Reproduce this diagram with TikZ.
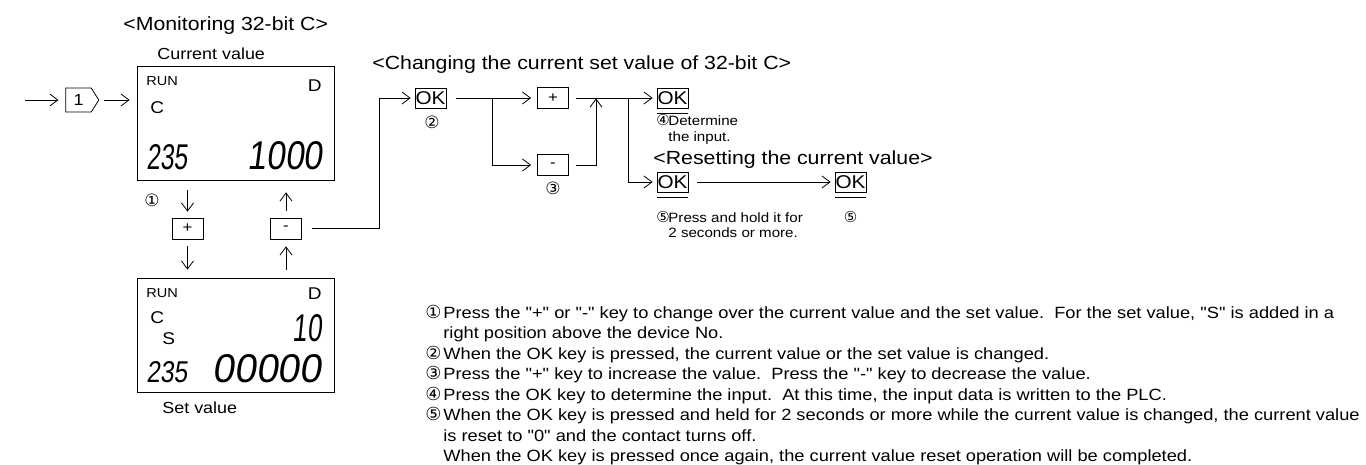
\documentclass[tikz,border=0pt]{standalone}
\usepackage{fontspec}
\usepackage{graphicx}
\newfontfamily\mainf{Liberation Sans}[FakeStretch=1.12]
\newfontfamily\cnum{DejaVu Sans}
\newfontfamily\lcdfont{Liberation Sans}[FakeSlant=0.15]
\usetikzlibrary{arrows.meta,shapes.symbols,calc}
\tikzset{
  fs/.style={font=\mainf\fontsize{#1}{#1}\selectfont},
  cs/.style={font=\cnum\fontsize{#1}{#1}\selectfont, inner sep=0pt},
  txt/.style={inner sep=0pt, anchor=base west},
  arr/.style={-{Straight Barb[length=8pt,width=12pt]}},
  panel/.style={draw, minimum width=197pt, minimum height=114pt, inner sep=0pt},
  keybox/.style={draw, minimum width=31pt, minimum height=21pt, inner sep=0pt, fs=15},
  okbox/.style={draw, minimum width=31pt, minimum height=20pt, inner sep=0pt, fs=18.5},
  lcd/.style={inner sep=0pt}
}
\begin{document}
\begin{tikzpicture}[x=1pt,y=-1pt,line width=0.8pt]
\useasboundingbox (0,0) rectangle (1366,464);

% ---------- headings ----------
\node[txt,fs=19] (h1) at (123,30) {<Monitoring 32-bit C>};
\node[txt,fs=16] (cv) at (157,59) {Current value};
\node[txt,fs=19] (h2) at (372,69) {<Changing the current set value of 32-bit C>};
\node[txt,fs=19] (h3) at (653,164) {<Resetting the current value>};

% ---------- top panel ----------
\node[panel] (p1) at (235.5,123) {};
\node[txt,fs=13] (run1) at (146,85) {RUN};
\node[inner sep=0pt,anchor=base east,fs=17] (d1) at (322,91) {D};
\node[txt,fs=17] (c1) at (150,113) {C};
\node[lcd,anchor=south west] (n235a) at (146,170) {\resizebox{41pt}{25pt}{\lcdfont 235}};
\node[lcd,anchor=south east] (n1000) at (323,170) {\resizebox{75pt}{28pt}{\lcdfont 1000}};

% ---------- bottom panel ----------
\node[panel] (p2) at (235.5,335) {};
\node[txt,fs=13] (run2) at (146,297) {RUN};
\node[inner sep=0pt,anchor=base east,fs=17] (d2) at (322,299) {D};
\node[txt,fs=17] (c2) at (150,323) {C};
\node[txt,fs=17] (s2) at (162,344) {S};
\node[lcd,anchor=south east] (n10) at (322,342) {\resizebox{29pt}{27pt}{\lcdfont 10}};
\node[lcd,anchor=south west] (n235b) at (146,383) {\resizebox{41pt}{21pt}{\lcdfont 235}};
\node[lcd,anchor=south east] (n00000) at (322,383) {\resizebox{109pt}{28pt}{\lcdfont 00000}};
\node[txt,fs=16] (sv) at (162,413) {Set value};

% ---------- entry ----------
\coordinate (in) at (25,100);
\node[draw, signal, signal to=east, signal pointer angle=115, minimum width=33pt, minimum height=24pt, inner sep=0pt, fs=16] (one) at (78.5,100) {1};
\draw[arr, shorten >=7pt] (in) -- (one.west);
\draw[arr, shorten <=5pt, shorten >=7pt] (one.east) -- (p1.west |- one.east);

% ---------- panel switching ----------
\node[cs=17] (k1) at (152,200) {①};
\node[keybox] (plus1) at (187.5,228.5) {+};
\node[keybox] (minus1) at (286,228.5) {-};
\draw[arr, shorten <=10pt, shorten >=6pt] (plus1 |- p1.south) -- (plus1.north);
\draw[arr, shorten <=7pt, shorten >=8pt] (plus1.south) -- (plus1 |- p2.north);
\draw[arr, shorten <=8pt, shorten >=7pt] (minus1 |- p2.north) -- (minus1.south);
\draw[arr, shorten <=7pt, shorten >=12pt] (minus1.north) -- (minus1 |- p1.south);

% ---------- changing set value ----------
\node[okbox] (ok1) at (430.5,98) {OK};
\node[cs=17] (k2) at (432,122) {②};
\coordinate (j0) at (379,98);
\draw[arr, shorten <=10pt, shorten >=4pt] (minus1.east) -| (j0) -- (ok1.west);

\node[keybox] (plus2) at (553,98) {+};
\node[keybox] (minus2) at (553,165) {-};
\node[cs=17] (k3) at (553,188) {③};
\coordinate (b1) at (492,98);
\draw[arr, shorten <=10pt, shorten >=6pt] (ok1.east) -- (plus2.west);
\draw[arr, shorten >=6pt] (b1) |- (minus2.west);

\node[okbox] (ok4) at (672.5,98) {OK};
\node[okbox] (ok5) at (672.5,182) {OK};
\node[okbox] (ok6) at (850.5,182) {OK};
\draw ([yshift=-5pt]ok4.south west) -- ([yshift=-5pt]ok4.south east);
\draw ([yshift=-5pt]ok5.south west) -- ([yshift=-5pt]ok5.south east);
\draw ([yshift=-5pt]ok6.south west) -- ([yshift=-5pt]ok6.south east);

\coordinate (j2) at (596,98);
\coordinate (b2) at (628,98);
\draw[arr, shorten <=7pt, shorten >=4pt] (plus2.east) -- (ok4.west);
\draw[arr, shorten <=7pt, shorten >=0.5pt] (minus2.east) -| (j2);
\draw[arr, shorten >=4pt] (b2) |- (ok5.west);
\draw[arr, shorten <=9pt, shorten >=4pt] (ok5.east) -- (ok6.west);

\node[cs=15, anchor=base west] (k4) at (656,125) {④};
\node[txt,fs=13.5] (det1) at (668,125) {Determine};
\node[txt,fs=13.5] (det2) at (668,141) {the input.};
\node[cs=15, anchor=base west] (k5) at (656,222) {⑤};
\node[txt,fs=13.5] (ph1) at (668,222) {Press and hold it for};
\node[txt,fs=13.5] (ph2) at (668,237) {2 seconds or more.};
\node[cs=15] (k6) at (850.5,217) {⑤};

% ---------- notes ----------
\node[cs=18, anchor=base west] (m1) at (425,318) {①};
\node[txt,fs=16.3] (t1) at (443,318) {Press the "+" or "-" key to change over the current value and the set value.\ \ For the set value, "S" is added in a};
\node[txt,fs=16.3] (t2) at (443,338.5) {right position above the device No.};
\node[cs=18, anchor=base west] (m2) at (425,359) {②};
\node[txt,fs=16.3] (t3) at (443,359) {When the OK key is pressed, the current value or the set value is changed.};
\node[cs=18, anchor=base west] (m3) at (425,379.5) {③};
\node[txt,fs=16.3] (t4) at (443,379.5) {Press the "+" key to increase the value.\ \ Press the "-" key to decrease the value.};
\node[cs=18, anchor=base west] (m4) at (425,400) {④};
\node[txt,fs=16.3] (t5) at (443,400) {Press the OK key to determine the input.\ \ At this time, the input data is written to the PLC.};
\node[cs=18, anchor=base west] (m5) at (425,420.5) {⑤};
\node[txt,fs=16.3] (t6) at (443,420.5) {When the OK key is pressed and held for 2 seconds or more while the current value is changed, the current value};
\node[txt,fs=16.3] (t7) at (443,441) {is reset to "0" and the contact turns off.};
\node[txt,fs=16.3] (t8) at (443,461.5) {When the OK key is pressed once again, the current value reset operation will be completed.};
\end{tikzpicture}
\end{document}
